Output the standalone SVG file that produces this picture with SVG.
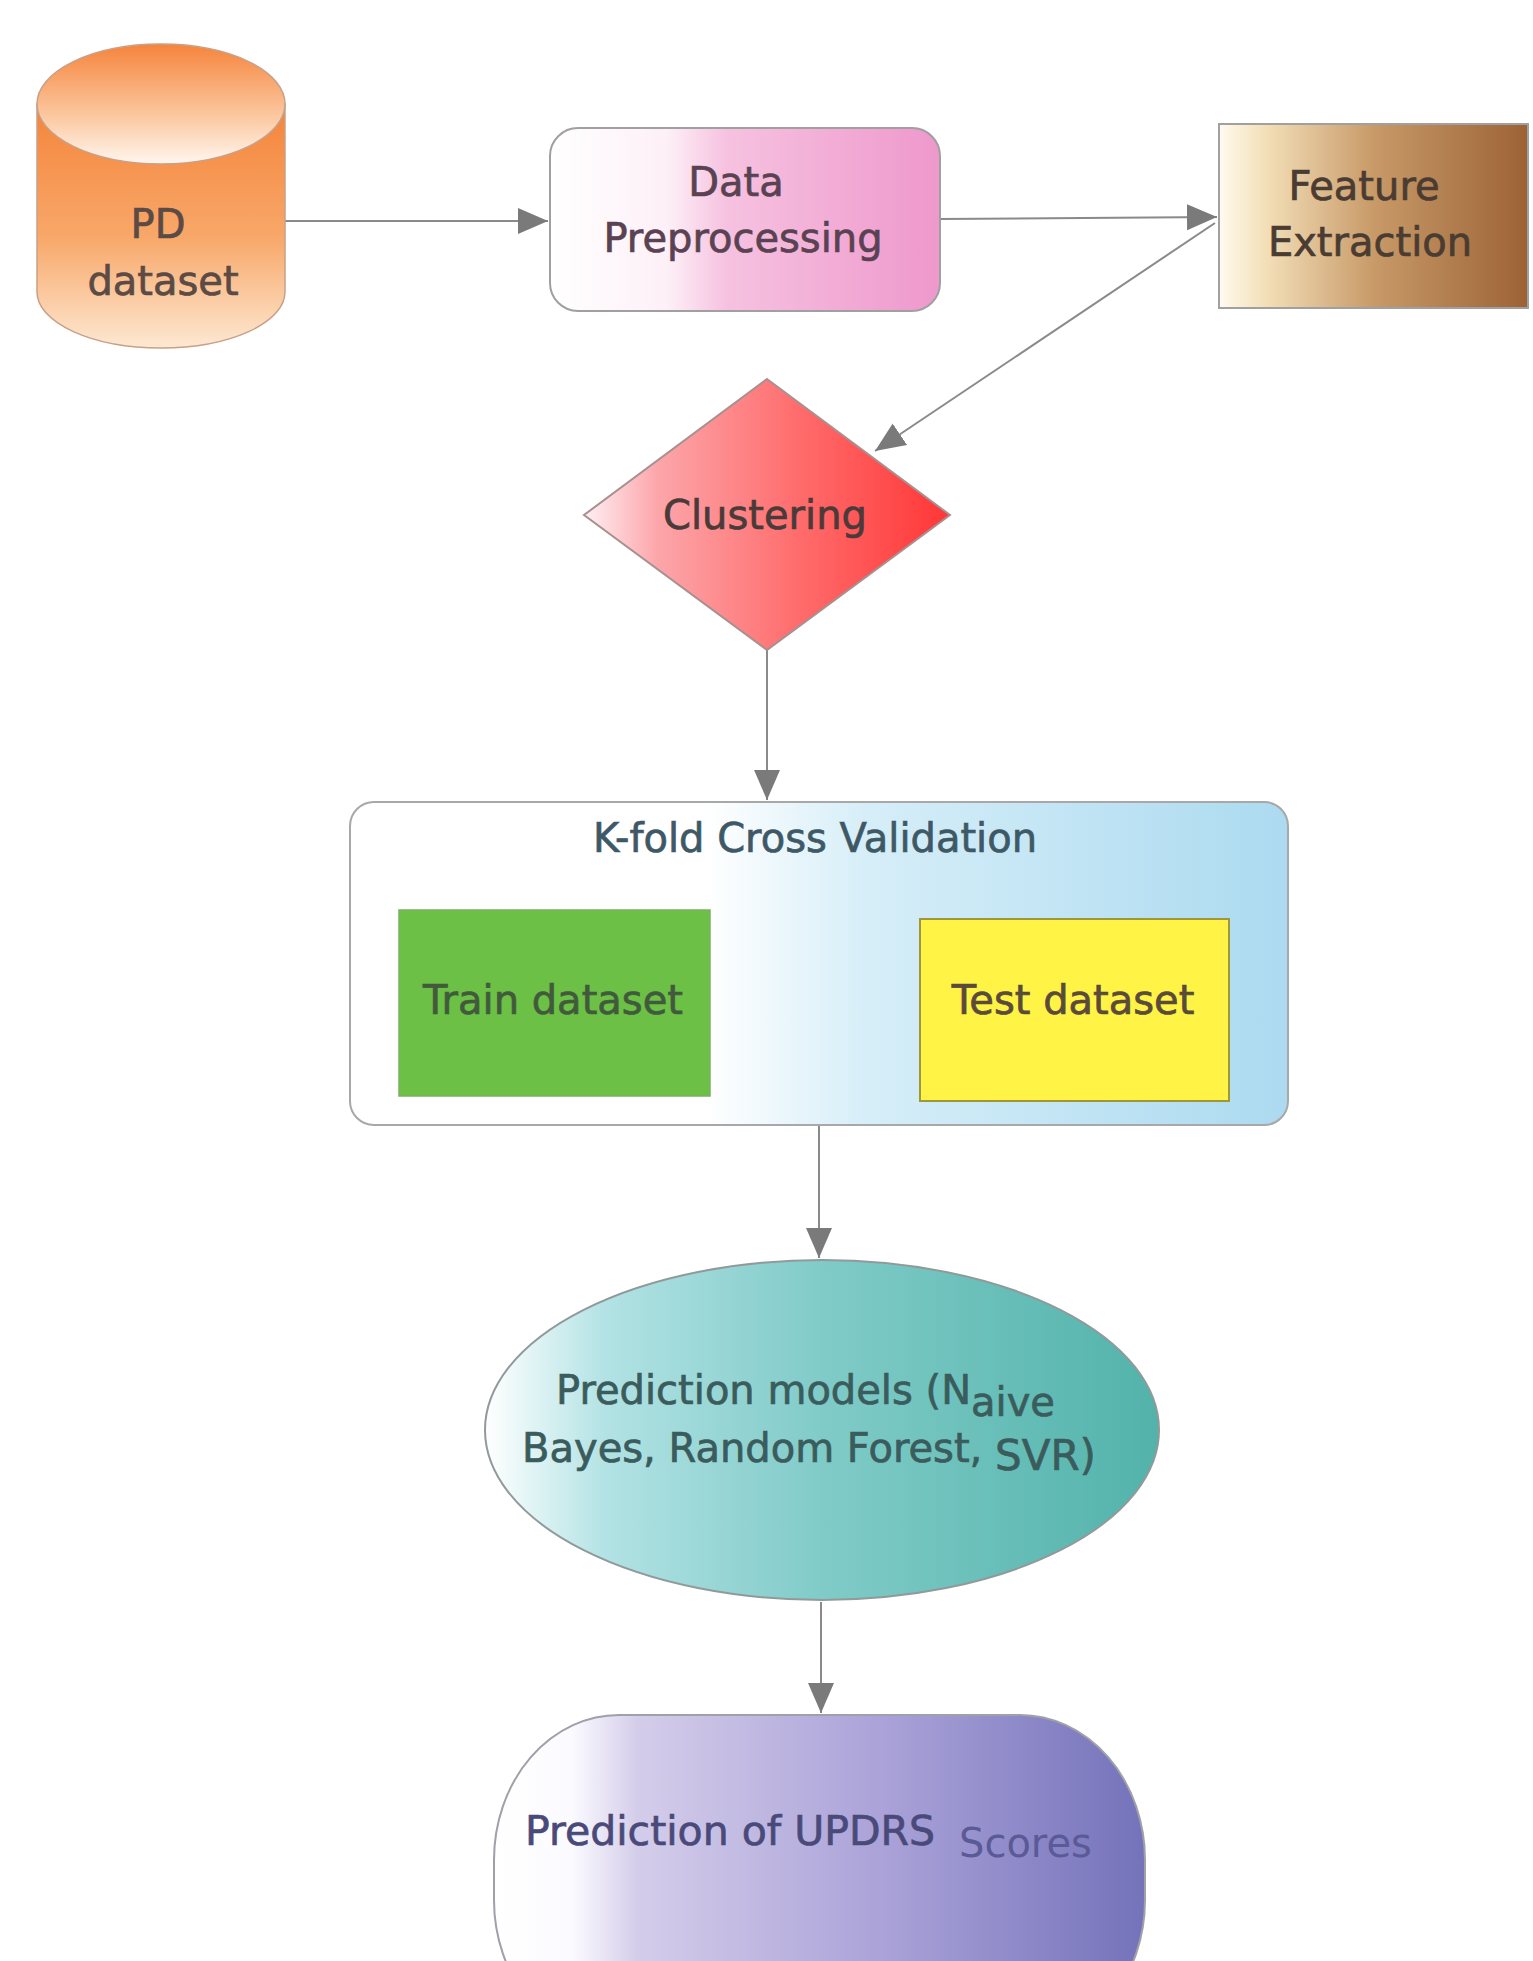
<svg xmlns="http://www.w3.org/2000/svg" width="1533" height="1961" viewBox="0 0 1533 1961">
<defs>
<style>
text{font-family:"DejaVu Sans","Liberation Sans",sans-serif;font-size:40px;text-anchor:middle;stroke-width:0.7}
.edge{stroke:#8a8a8a;stroke-width:2;fill:none}
</style>
<marker id="arr" markerUnits="userSpaceOnUse" markerWidth="32" markerHeight="28" refX="30" refY="13" orient="auto">
<path d="M0,0 L30,13 L0,26 Z" fill="#7a7a7a"/>
</marker>
<linearGradient id="gCylBody" x1="0" y1="0" x2="0" y2="1">
<stop offset="0" stop-color="#f4843a"/>
<stop offset="0.55" stop-color="#f8a86a"/>
<stop offset="1" stop-color="#fde8d2"/>
</linearGradient>
<linearGradient id="gCylTop" x1="0" y1="0" x2="0" y2="1">
<stop offset="0" stop-color="#f6843c"/>
<stop offset="0.6" stop-color="#fbc8a0"/>
<stop offset="1" stop-color="#fff6ee"/>
</linearGradient>
<linearGradient id="gPre" x1="0" y1="0" x2="1" y2="0">
<stop offset="0" stop-color="#ffffff"/>
<stop offset="0.3" stop-color="#fdf0f7"/>
<stop offset="0.45" stop-color="#f6c2e0"/>
<stop offset="1" stop-color="#ee98cc"/>
</linearGradient>
<linearGradient id="gFeat" x1="0" y1="0" x2="1" y2="0">
<stop offset="0" stop-color="#fffbee"/>
<stop offset="0.15" stop-color="#f3dfb8"/>
<stop offset="0.5" stop-color="#c89a68"/>
<stop offset="1" stop-color="#9c6236"/>
</linearGradient>
<linearGradient id="gDia" x1="0" y1="0" x2="1" y2="0">
<stop offset="0" stop-color="#fff0f4"/>
<stop offset="0.2" stop-color="#fca6aa"/>
<stop offset="0.6" stop-color="#ff6a6a"/>
<stop offset="1" stop-color="#ff3636"/>
</linearGradient>
<linearGradient id="gKf" x1="0" y1="0" x2="1" y2="0">
<stop offset="0" stop-color="#ffffff"/>
<stop offset="0.38" stop-color="#ffffff"/>
<stop offset="0.55" stop-color="#d6eef8"/>
<stop offset="1" stop-color="#acdaf0"/>
</linearGradient>
<linearGradient id="gEll" x1="0" y1="0" x2="1" y2="0">
<stop offset="0" stop-color="#ffffff"/>
<stop offset="0.18" stop-color="#b2e2e4"/>
<stop offset="0.5" stop-color="#80cbc8"/>
<stop offset="1" stop-color="#52b3aa"/>
</linearGradient>
<linearGradient id="gTerm" x1="0" y1="0" x2="1" y2="0">
<stop offset="0" stop-color="#ffffff"/>
<stop offset="0.12" stop-color="#fbfaff"/>
<stop offset="0.22" stop-color="#d4cdea"/>
<stop offset="0.6" stop-color="#aaa2d8"/>
<stop offset="1" stop-color="#7472ba"/>
</linearGradient>
</defs>

<g id="connectors">
<path class="edge" d="M285,221 L548,221" marker-end="url(#arr)"/>
<path class="edge" d="M940,219 L1217,217" marker-end="url(#arr)"/>
<path class="edge" d="M1215,223 L875,451" marker-end="url(#arr)"/>
<path class="edge" d="M767,650 L767,800" marker-end="url(#arr)"/>
<path class="edge" d="M819,1125 L819,1258" marker-end="url(#arr)"/>
<path class="edge" d="M821,1602 L821,1713" marker-end="url(#arr)"/>
</g>

<g id="pd-dataset">
<path d="M37,104 L37,292 A124,56 0 0 0 285,292 L285,104 Z" fill="url(#gCylBody)" stroke="#c8a088" stroke-width="1.5"/>
<ellipse cx="161" cy="104" rx="124" ry="60" fill="url(#gCylTop)" stroke="#c8a088" stroke-width="1.5"/>
<text x="158" y="238" fill="#5c4a44" stroke="#5c4a44">PD</text>
<text x="163" y="295" fill="#5c4a44" stroke="#5c4a44">dataset</text>
</g>

<g id="data-preprocessing">
<rect x="550" y="128" width="390" height="183" rx="28" fill="url(#gPre)" stroke="#a0a0a0" stroke-width="2"/>
<text x="736" y="196" fill="#5a4252" stroke="#5a4252">Data</text>
<text x="743" y="252" fill="#5a4252" stroke="#5a4252">Preprocessing</text>
</g>

<g id="feature-extraction">
<rect x="1219" y="124" width="309" height="184" fill="url(#gFeat)" stroke="#a0a0a0" stroke-width="2"/>
<text x="1364" y="200" fill="#4a3c32" stroke="#4a3c32">Feature</text>
<text x="1370" y="256" fill="#4a3c32" stroke="#4a3c32">Extraction</text>
</g>

<g id="clustering">
<polygon points="767,379 950,515 767,650 584,515" fill="url(#gDia)" stroke="#a89090" stroke-width="2"/>
<text x="765" y="529" fill="#4a3a3a" stroke="#4a3a3a">Clustering</text>
</g>

<g id="kfold">
<rect x="350" y="802" width="938" height="323" rx="24" fill="url(#gKf)" stroke="#a8a8a8" stroke-width="2"/>
<text x="815" y="852" fill="#3e5866" stroke="#3e5866">K-fold Cross Validation</text>
<g id="train-dataset">
<rect x="399" y="910" width="311" height="186" fill="#6cc046" stroke="#78b060" stroke-width="1.5"/>
<text x="553" y="1014" fill="#415a3c" stroke="#415a3c">Train dataset</text>
</g>
<g id="test-dataset">
<rect x="920" y="919" width="309" height="182" fill="#fff445" stroke="#a09838" stroke-width="2"/>
<text x="1073" y="1014" fill="#5a4a3a" stroke="#5a4a3a">Test dataset</text>
</g>
</g>

<g id="prediction-models">
<ellipse cx="822" cy="1430" rx="337" ry="170" fill="url(#gEll)" stroke="#909a9a" stroke-width="2"/>
<text x="556" y="1404" fill="#3a5c5c" stroke="#3a5c5c" style="text-anchor:start">Prediction models (N<tspan dy="12">aive</tspan></text>
<text x="522" y="1462" fill="#3a5c5c" stroke="#3a5c5c" style="text-anchor:start">Bayes, Random Forest, <tspan dy="8" style="font-size:42px">SVR)</tspan></text>
</g>

<g id="prediction-updrs">
<rect x="494" y="1715" width="651" height="330" rx="125" ry="145" fill="url(#gTerm)" stroke="#a0a0a8" stroke-width="2"/>
<text x="525" y="1845" fill="#4a4a7a" stroke="#4a4a7a" stroke-width="1.1" style="text-anchor:start;font-size:41px">Prediction of UPDRS</text>
<text x="959" y="1857" fill="#5a5a96" style="text-anchor:start">Scores</text>
</g>
</svg>
